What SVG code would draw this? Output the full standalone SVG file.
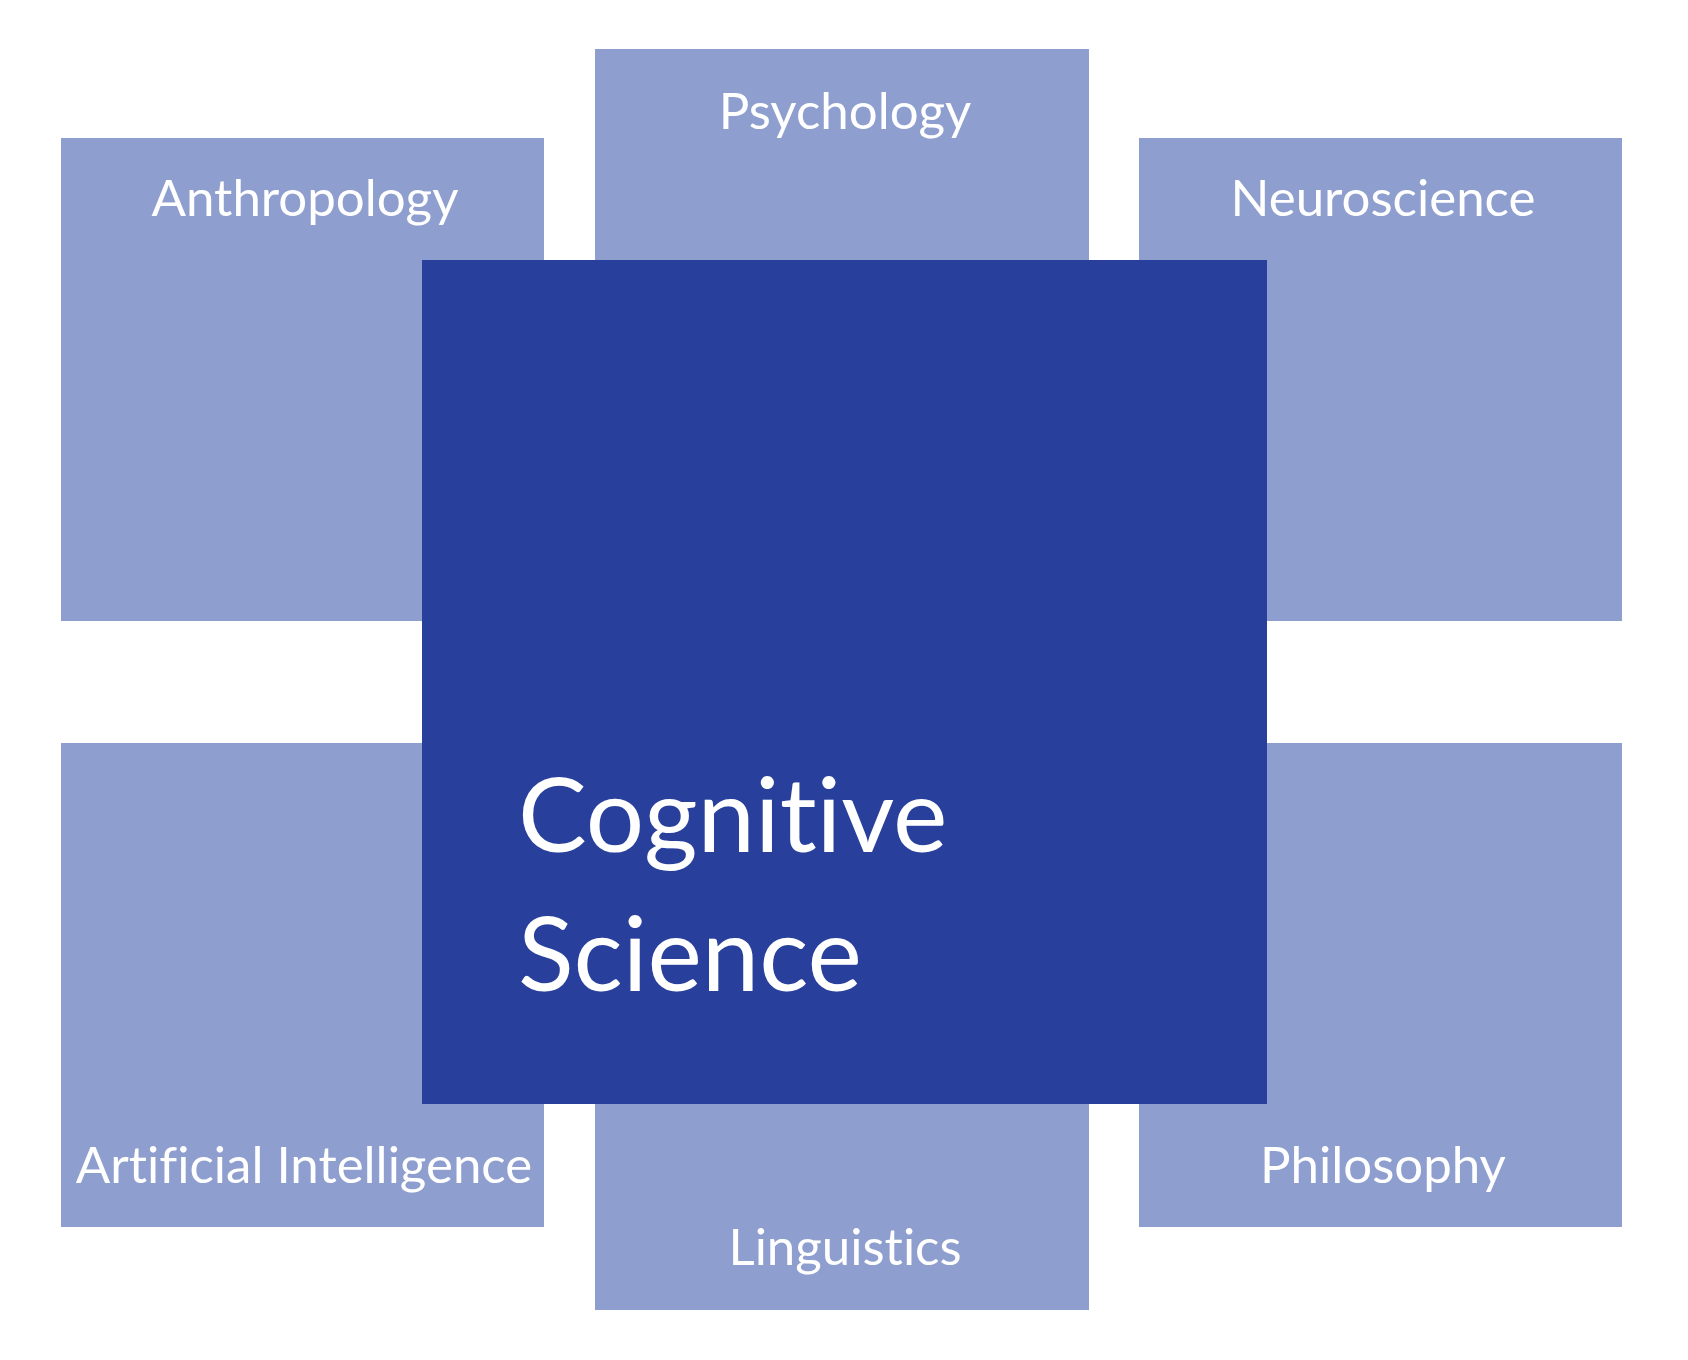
<svg xmlns="http://www.w3.org/2000/svg" width="1688" height="1360" viewBox="0 0 1688 1360">
<style>
.sub{fill:#8E9ECE}
.core{fill:#283F9C}
text{font-variant-ligatures:none;font-feature-settings:"liga" 0,"clig" 0}
.lbl{font-family:Lato,"Noto Sans","Liberation Sans",sans-serif;font-size:51px;fill:#FFFFFF;text-anchor:middle}
.big{font-family:Lato,"Noto Sans","Liberation Sans",sans-serif;font-size:103px;fill:#FFFFFF}
</style>
<rect width="1688" height="1360" fill="#FFFFFF"/>
<g id="psychology"><rect class="sub" x="595" y="49" width="494" height="494"/><text class="lbl" x="845" y="129">Psychology</text></g>
<g id="linguistics"><rect class="sub" x="595" y="816" width="494" height="494"/><text class="lbl" x="845" y="1265">Linguistics</text></g>
<g id="anthropology"><rect class="sub" x="61" y="138" width="483" height="483"/><text class="lbl" x="305" y="216">Anthropology</text></g>
<g id="neuroscience"><rect class="sub" x="1139" y="138" width="483" height="483"/><text class="lbl" x="1383" y="216">Neuroscience</text></g>
<g id="artificial-intelligence"><rect class="sub" x="61" y="743" width="483" height="484"/><text class="lbl" x="304" y="1183">Artificial Intelligence</text></g>
<g id="philosophy"><rect class="sub" x="1139" y="743" width="483" height="484"/><text class="lbl" x="1383" y="1183">Philosophy</text></g>
<g id="cognitive-science"><rect class="core" x="422" y="260" width="845" height="844"/><text class="big" x="518" y="852">Cognitive</text><text class="big" x="518" y="991">Science</text></g>
<g id="connectors"></g>
</svg>
